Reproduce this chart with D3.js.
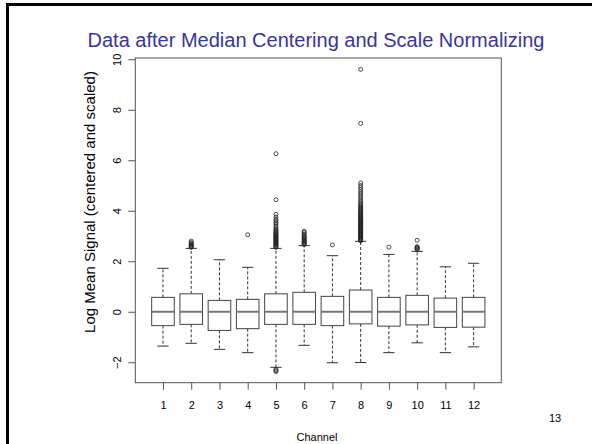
<!DOCTYPE html>
<html><head><meta charset="utf-8">
<script src="https://cdn.jsdelivr.net/npm/d3@7"></script>
<style>body{margin:0;background:#fff}svg{display:block;font-family:"Liberation Sans",Arial,sans-serif}</style>
</head><body><svg id="c" width="592" height="444"></svg>
<script>
const channels = [1,2,3,4,5,6,7,8,9,10,11,12];
const medians  = [0,0,0,0,0,0,0,0,0,0,0,0];
const q1       = [-0.55,-0.50,-0.74,-0.67,-0.50,-0.50,-0.55,-0.48,-0.57,-0.52,-0.62,-0.61];
const q3       = [0.57,0.71,0.45,0.49,0.71,0.77,0.61,0.86,0.57,0.65,0.54,0.57];
const whiskLo  = [-1.36,-1.25,-1.49,-1.62,-2.20,-1.33,-2.02,-2.01,-1.62,-1.23,-1.62,-1.39];
const whiskHi  = [1.72,2.51,2.06,1.76,2.51,2.62,2.22,2.79,2.27,2.39,1.78,1.92];
const outliers = [
  [],
  [2.55,2.58,2.6,2.63,2.66,2.7,2.74,2.8],
  [],
  [3.05],
  [2.55,2.58,2.61,2.64,2.67,2.7,2.73,2.76,2.79,2.82,2.85,2.88,2.91,2.94,2.97,3.0,3.03,3.06,3.1,3.14,3.18,3.22,3.27,3.33,3.4,3.47,3.53,3.6,3.66,3.75,3.86,4.44,6.26,-2.28,-2.33,-2.37],
  [2.66,2.69,2.72,2.75,2.78,2.82,2.86,2.9,2.94,2.98,3.03,3.08,3.14,3.19],
  [2.65],
  [2.81,2.84,2.86,2.89,2.92,2.95,2.97,3.0,3.03,3.06,3.08,3.11,3.14,3.17,3.2,3.22,3.25,3.28,3.31,3.34,3.36,3.39,3.42,3.45,3.48,3.5,3.53,3.56,3.59,3.62,3.65,3.68,3.71,3.74,3.77,3.8,3.83,3.87,3.9,3.94,3.98,4.02,4.06,4.1,4.14,4.19,4.24,4.3,4.36,4.42,4.5,4.58,4.66,4.74,4.83,4.92,5.0,5.1,7.46,9.6],
  [2.56],
  [2.46,2.49,2.52,2.55,2.58,2.83],
  [],
  []
];
const yTicks = [-2,0,2,4,6,8,10];
const title = "Data after Median Centering and Scale Normalizing";
const yLabel = "Log Mean Signal (centered and scaled)";
const xLabel = "Channel";
const pageNo = "13";

const svg = d3.select("#c");
svg.append("path").attr("d","M7.5,444 V4.5 H592").attr("fill","none").attr("stroke","#000").attr("stroke-width",3);

const L=135.3, R=501.3, T=58, B=382.7;
const x = d3.scaleLinear().domain([0.02,12.98]).range([L,R]);
const y = d3.scaleLinear().domain([-2.81,10.05]).range([B,T]);

svg.append("text").attr("x",316).attr("y",47).attr("text-anchor","middle")
  .attr("font-size",20).attr("fill","#3535a5").text(title);

svg.append("rect").attr("x",L).attr("y",T).attr("width",R-L).attr("height",B-T)
  .attr("fill","none").attr("stroke","#555").attr("stroke-width",1);

const ya = svg.append("g").attr("transform",`translate(${L},0)`)
  .call(d3.axisLeft(y).tickValues(yTicks).tickSizeInner(7).tickSizeOuter(0).tickFormat(d3.format("d")));
ya.select(".domain").remove();
ya.selectAll(".tick line").attr("stroke","#555");
ya.selectAll(".tick text").attr("x",0).attr("dy",null).attr("text-anchor","middle")
  .attr("dominant-baseline","central").attr("font-size",11).attr("fill","#000")
  .attr("font-family","Liberation Sans, Arial, sans-serif")
  .attr("transform","translate(-18.6,0) rotate(-90)");

const xa = svg.append("g").attr("transform",`translate(0,${B})`)
  .call(d3.axisBottom(x).tickValues(channels).tickSizeInner(7).tickSizeOuter(0).tickFormat(d3.format("d")));
xa.select(".domain").remove();
xa.selectAll(".tick line").attr("stroke","#555");
xa.selectAll(".tick text").attr("y",22.5).attr("dy",null).attr("dominant-baseline","central")
  .attr("font-size",11).attr("fill","#000").attr("font-family","Liberation Sans, Arial, sans-serif");

svg.append("text").attr("transform","translate(89,202) rotate(-90)").attr("text-anchor","middle")
  .attr("dominant-baseline","central").attr("font-size",15).attr("fill","#000").text(yLabel);
svg.append("text").attr("x",317).attr("y",437).attr("text-anchor","middle")
  .attr("dominant-baseline","central").attr("font-size",11).attr("fill","#000").text(xLabel);
svg.append("text").attr("x",555).attr("y",418).attr("text-anchor","middle")
  .attr("dominant-baseline","central").attr("font-size",11).attr("fill","#000").text(pageNo);

const bw = x(0.4)-x(0), sw = x(0.2)-x(0);
channels.forEach((c,i)=>{
  const g = svg.append("g");
  const cx = x(c);
  g.append("line").attr("x1",cx).attr("x2",cx).attr("y1",y(q3[i])).attr("y2",y(whiskHi[i]))
    .attr("stroke","#333").attr("stroke-dasharray","3,2");
  g.append("line").attr("x1",cx).attr("x2",cx).attr("y1",y(q1[i])).attr("y2",y(whiskLo[i]))
    .attr("stroke","#333").attr("stroke-dasharray","3,2");
  [whiskHi[i],whiskLo[i]].forEach(v=>g.append("line").attr("x1",cx-sw).attr("x2",cx+sw)
    .attr("y1",y(v)).attr("y2",y(v)).attr("stroke","#333"));
  g.append("rect").attr("x",cx-bw).attr("width",2*bw).attr("y",y(q3[i])).attr("height",y(q1[i])-y(q3[i]))
    .attr("fill","#fff").attr("stroke","#444");
  g.append("line").attr("x1",cx-bw).attr("x2",cx+bw).attr("y1",y(medians[i])).attr("y2",y(medians[i]))
    .attr("stroke","#777").attr("stroke-width",2);
  outliers[i].forEach(v=>g.append("circle").attr("cx",cx).attr("cy",y(v)).attr("r",2)
    .attr("fill","none").attr("stroke","#222").attr("stroke-width",0.8));
});
</script></body></html>
